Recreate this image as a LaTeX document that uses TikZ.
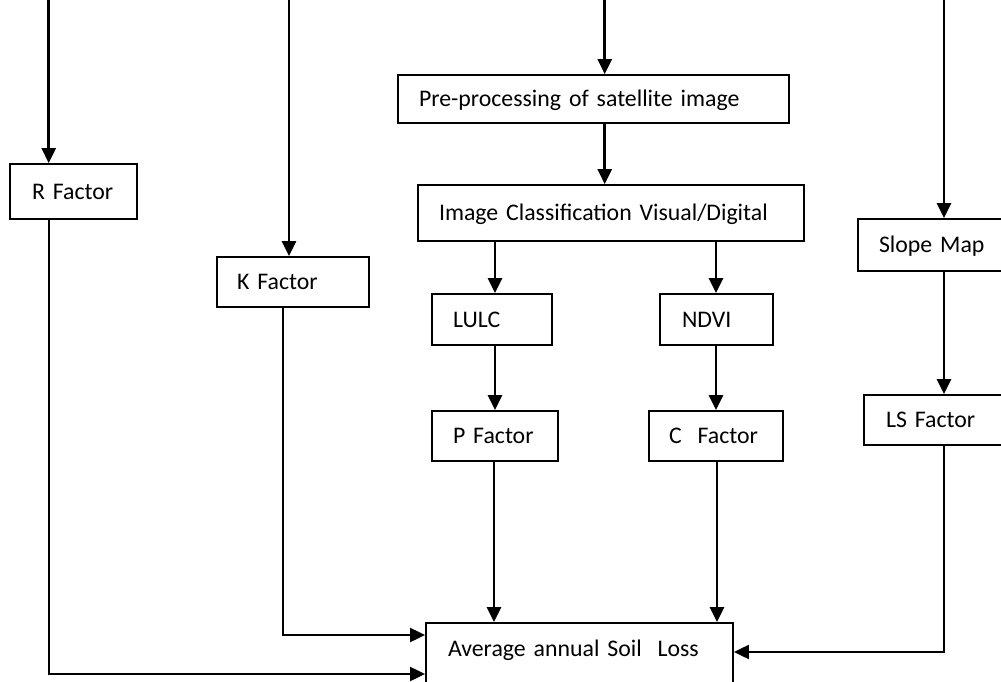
\documentclass[tikz,border=0pt]{standalone}
\usepackage{fontspec}
\setmainfont{Carlito}
\usetikzlibrary{arrows.meta}
\begin{document}
\begin{tikzpicture}[x=1pt,y=-1pt,
  bx/.style={draw, line width=1.8pt, font=\fontsize{23.8}{28}\selectfont, align=left,
    text height=15.3pt, text depth=0pt, inner ysep=0pt},
  arr/.style={line width=2.6pt, -{Triangle[length=15pt,width=14pt]}},
  elb/.style={line width=2pt, -{Triangle[length=15pt,width=14pt]}}]
\useasboundingbox (0,0) rectangle (1001,682);
\clip (0,0) rectangle (1001,682);
% boxes
\node[bx, minimum height=55pt, text width=83pt, inner xsep=22pt] (R) at (73.5,191.5) {R Factor};
\node[bx, minimum height=50pt, text width=112pt, inner xsep=20pt] (K) at (293,282) {K Factor};
\node[bx, minimum height=48pt, text width=349pt, inner xsep=21pt] (Pre) at (593.5,99) {Pre-processing of satellite image};
\node[bx, minimum height=56pt, text width=344pt, inner xsep=21pt] (IC) at (611,213) {Image Classification Visual/Digital};
\node[bx, minimum height=51pt, text width=78pt, inner xsep=21pt] (LULC) at (492,319.5) {LULC};
\node[bx, minimum height=51pt, text width=69pt, inner xsep=22pt] (NDVI) at (716.5,319.5) {NDVI};
\node[bx, minimum height=50pt, text width=84pt, inner xsep=21pt] (P) at (495,436) {P Factor};
\node[bx, minimum height=50pt, text width=94pt, inner xsep=20pt] (C) at (716,436) {C\ \ Factor};
\node[bx, minimum height=52pt, text width=130pt, inner xsep=21pt] (Slope) at (944,245) {Slope Map};
\node[bx, minimum height=50pt, text width=122pt, inner xsep=22pt] (LS) at (947,420) {LS Factor};
\node[bx, text height=33.6pt, text depth=53.4pt, text width=263pt, inner xsep=22pt] (Avg) at (579.5,666.5) {Average annual Soil\ \ Loss};
% column coordinates
\coordinate (cR) at (48.7,-5);
\coordinate (cK) at (289,-5);
\coordinate (cP) at (604.7,-5);
\coordinate (cS) at (944,-5);
\coordinate (cL) at (495,0);
\coordinate (cN) at (716,0);
\coordinate (cLo) at (494,0);
\coordinate (cNo) at (717,0);
\coordinate (rturn) at (49,674);
\coordinate (kturn) at (283,635);
\coordinate (lturn) at (944,652);
% connectors
\draw[arr] (cR) -- (cR |- R.north);
\draw[arr] (cK) -- (cK |- K.north);
\draw[arr] (cP) -- (cP |- Pre.north);
\draw[arr] (cS) -- (cS |- Slope.north);
\draw[arr] (cP |- Pre.south) -- (cP |- IC.north);
\draw[arr] (cL |- IC.south) -- (cL |- LULC.north);
\draw[arr] (cN |- IC.south) -- (cN |- NDVI.north);
\draw[arr] (cL |- LULC.south) -- (cL |- P.north);
\draw[arr] (cN |- NDVI.south) -- (cN |- C.north);
\draw[arr] (cLo |- P.south) -- (cLo |- Avg.north);
\draw[arr] (cNo |- C.south) -- (cNo |- Avg.north);
\draw[arr] (cS |- Slope.south) -- (cS |- LS.north);
\draw[elb] (rturn |- R.south) -- (rturn) -- (rturn -| Avg.west);
\draw[elb] (kturn |- K.south) -- (kturn) -- (kturn -| Avg.west);
\draw[elb] (lturn |- LS.south) -- (lturn) -- (lturn -| Avg.east);
\end{tikzpicture}
\end{document}
